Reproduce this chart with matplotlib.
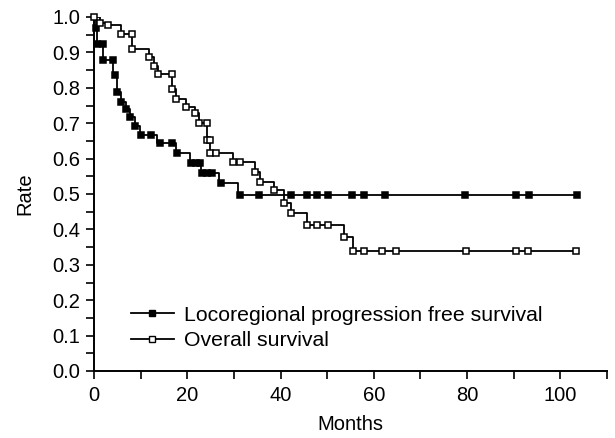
import matplotlib
matplotlib.use("Agg")
import matplotlib.pyplot as plt
from matplotlib.lines import Line2D
from matplotlib.ticker import MultipleLocator, FormatStrFormatter

plt.rcParams['font.family'] = ['Liberation Sans', 'DejaVu Sans']

# Locoregional progression free survival (step curve)
lpfs_times = [0, 0.5, 0.6, 2.0, 4.0, 5.0, 5.7, 6.8, 7.8, 8.8, 9.8, 13.5, 17.5, 20.5, 23.0, 26.8, 30.8]
lpfs_rates = [1.0, 0.968, 0.925, 0.879, 0.836, 0.789, 0.761, 0.740, 0.717, 0.693, 0.667, 0.645, 0.616, 0.588, 0.560, 0.531, 0.497]
lpfs_end = 103.6
lpfs_mark_t = [0.5, 0.6, 2.0, 2.0, 4.0, 4.6, 5.0, 5.7, 6.8, 7.8, 8.8, 10.0, 12.3, 14.1, 16.8, 17.7,
               20.8, 21.8, 22.8, 23.2, 24.2, 25.3, 27.3, 31.2, 35.3, 42.2, 45.6, 47.8, 50.1, 55.4,
               58.0, 62.4, 79.5, 90.4, 93.2, 103.6]
lpfs_mark_r = [0.968, 0.925, 0.925, 0.879, 0.879, 0.836, 0.789, 0.761, 0.740, 0.717, 0.693, 0.667, 0.667,
               0.645, 0.645, 0.616, 0.588, 0.588, 0.588, 0.560, 0.560, 0.560, 0.531, 0.497, 0.497,
               0.497, 0.497, 0.497, 0.497, 0.497, 0.497, 0.497, 0.497, 0.497, 0.497, 0.497]

# Overall survival (step curve)
os_times = [0, 1.3, 3.0, 5.7, 8.2, 11.8, 12.8, 13.8, 16.8, 17.5, 19.7, 21.6, 22.5, 24.2, 24.9, 29.9,
            34.6, 35.7, 38.7, 40.7, 42.3, 45.7, 53.6, 55.6]
os_rates = [1.0, 0.984, 0.977, 0.953, 0.909, 0.888, 0.862, 0.838, 0.798, 0.768, 0.747, 0.728, 0.701,
            0.653, 0.617, 0.591, 0.561, 0.533, 0.511, 0.474, 0.445, 0.412, 0.379, 0.340]
os_end = 103.4
os_mark_t = [0, 1.3, 3.0, 5.7, 8.2, 8.2, 11.8, 12.8, 13.8, 16.8, 16.8, 17.5, 19.7, 21.6, 22.5, 24.2,
             24.2, 24.9, 24.9, 26.2, 29.9, 31.2, 34.6, 35.7, 38.7, 40.7, 42.3, 45.7, 47.8, 50.2,
             53.6, 55.6, 57.9, 61.8, 64.8, 79.8, 90.5, 93.0, 103.4]
os_mark_r = [1.0, 0.984, 0.977, 0.953, 0.953, 0.909, 0.888, 0.862, 0.838, 0.838, 0.798, 0.768, 0.747,
             0.728, 0.701, 0.701, 0.653, 0.653, 0.617, 0.617, 0.591, 0.591, 0.561, 0.533, 0.511,
             0.474, 0.445, 0.412, 0.412, 0.412, 0.379, 0.340, 0.340, 0.340, 0.340, 0.340, 0.340,
             0.340, 0.340]

series_labels = ["Locoregional progression free survival", "Overall survival"]

fig = plt.figure(figsize=(6.15, 4.38), dpi=100)
ax = fig.add_axes([94/615, 67/438, (607-94)/615, (371-17)/438])

lw = 1.3
ms = 5.0
ax.step(lpfs_times + [lpfs_end], lpfs_rates + [lpfs_rates[-1]], where='post', color='black', lw=lw)
ax.plot(lpfs_mark_t, lpfs_mark_r, ls='none', marker='s', ms=ms, mfc='black', mec='black', mew=1.1, clip_on=False)
ax.step(os_times + [os_end], os_rates + [os_rates[-1]], where='post', color='black', lw=lw)
ax.plot(os_mark_t, os_mark_r, ls='none', marker='s', ms=ms, mfc='white', mec='black', mew=1.1, clip_on=False, zorder=3)

ax.set_xlim(0, 110)
ax.set_ylim(0, 1.0)
for s in ['top', 'right']:
    ax.spines[s].set_visible(False)
for s in ['left', 'bottom']:
    ax.spines[s].set_linewidth(1.4)

ax.xaxis.set_major_locator(MultipleLocator(20))
ax.xaxis.set_minor_locator(MultipleLocator(10))
ax.yaxis.set_major_locator(MultipleLocator(0.1))
ax.yaxis.set_minor_locator(MultipleLocator(0.05))
ax.yaxis.set_major_formatter(FormatStrFormatter('%.1f'))
ax.tick_params(which='both', direction='out', length=6, width=1.2, labelsize=14.5)
ax.tick_params(axis='x', which='both', pad=5)
ax.tick_params(axis='y', which='both', pad=4)

ax.set_xlabel("Months", fontsize=14.5, labelpad=7)
ax.set_ylabel("Rate", fontsize=14.5, labelpad=13)

handles = [Line2D([], [], color='black', lw=lw, marker='s', ms=ms, mfc='black', mec='black'),
           Line2D([], [], color='black', lw=lw, marker='s', ms=ms, mfc='white', mec='black')]
ax.legend(handles, series_labels, loc='center left', bbox_to_anchor=(131/615, (438-328)/438),
          bbox_transform=fig.transFigure, frameon=False, fontsize=15.3, borderpad=0, borderaxespad=0,
          handlelength=2.0, handletextpad=0.5, labelspacing=0.3, numpoints=1)

fig.savefig("out.png", dpi=100)
